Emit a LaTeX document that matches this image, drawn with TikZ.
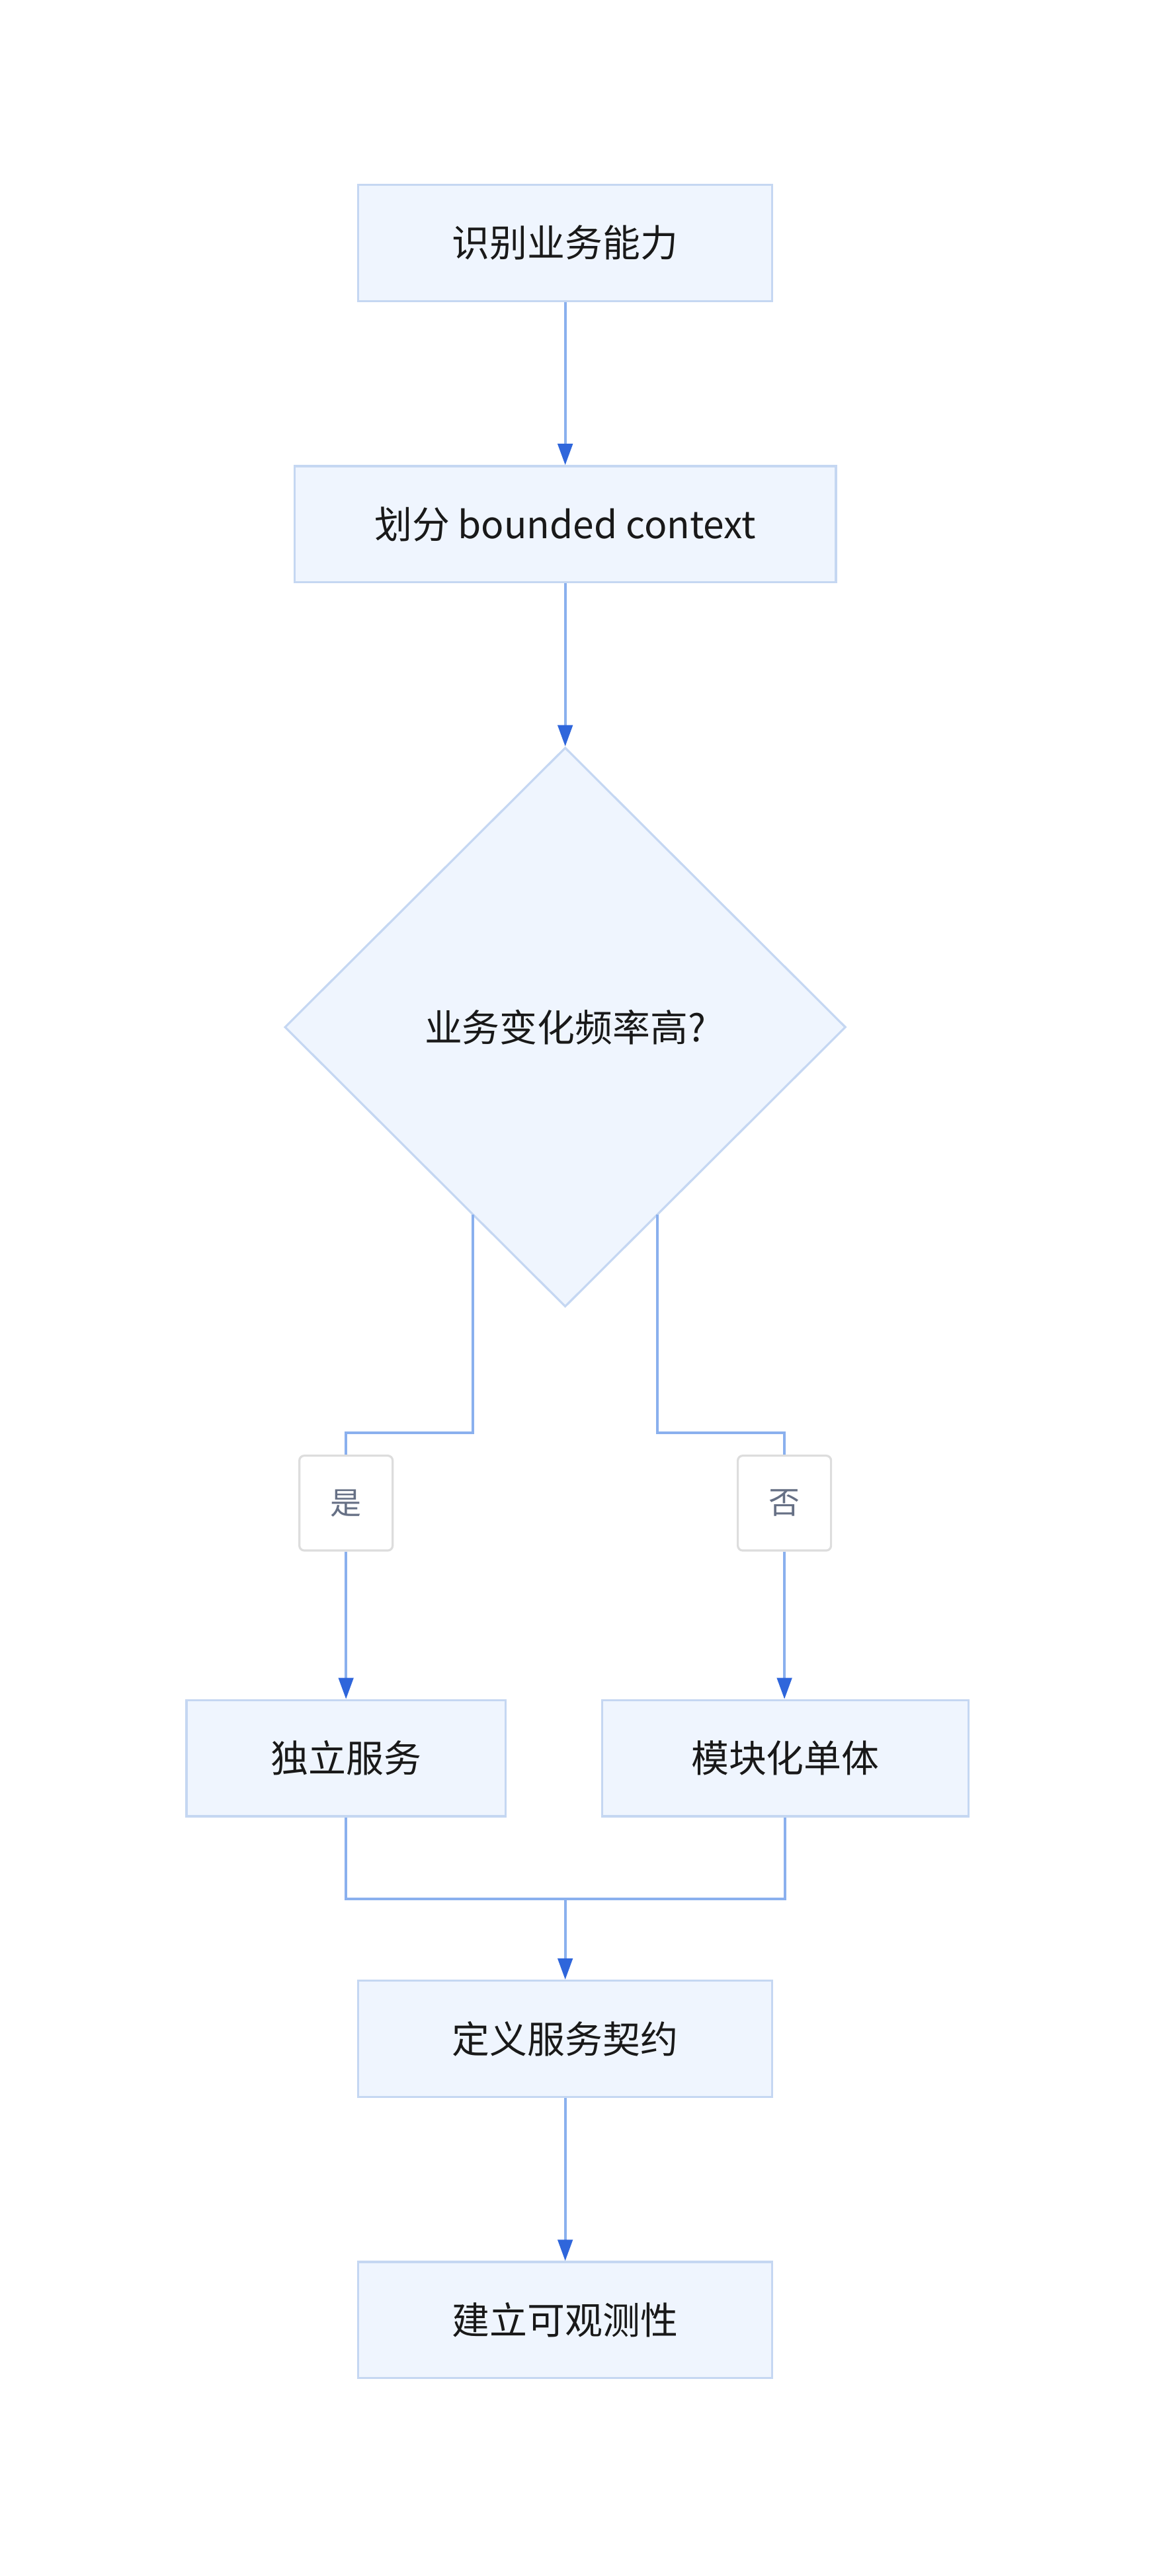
\documentclass[tikz,border=0pt]{standalone}
\usepackage{fontspec}
\setmainfont{Noto Sans CJK SC}
\usetikzlibrary{shapes.geometric,arrows.meta}
\definecolor{boxfill}{HTML}{EFF5FE}
\definecolor{boxline}{HTML}{C5D7F2}
\definecolor{conn}{HTML}{8AB0EE}
\definecolor{tip}{HTML}{2F66DB}
\definecolor{lblline}{HTML}{DDDDDD}
\definecolor{lbltext}{HTML}{667085}
\begin{document}
\begin{tikzpicture}[x=1pt,y=-1pt,
  box/.style={draw=boxline,fill=boxfill,line width=1.3pt,minimum height=71pt,inner sep=0pt,font=\fontsize{23}{28}\selectfont,text=black!90},
  lbl/.style={draw=lblline,fill=white,rounded corners=3pt,line width=1.3pt,minimum width=57pt,minimum height=58pt,inner sep=0pt,font=\fontsize{19}{23}\selectfont,text=lbltext},
  line/.style={draw=conn,line width=1.6pt},
  arr/.style={line,-{Triangle[length=13pt,width=9pt,fill=tip,color=tip]}}]
\useasboundingbox (0,0) rectangle (709,1575);
\node[box,minimum width=253pt] (a) at (345.5,148.5) {识别业务能力};
\node[box,minimum width=331pt] (b) at (345.5,320.5) {划分 bounded context};
\node[diamond,draw=boxline,fill=boxfill,line width=1.3pt,minimum width=343pt,minimum height=342pt,inner sep=0pt,font=\fontsize{23}{28}\selectfont,text=black!90] (c) at (345.5,628) {业务变化频率高?};
\node[lbl] (y) at (211.5,919) {是};
\node[lbl] (n) at (479.5,919) {否};
\node[box,minimum width=195pt] (d) at (211.5,1075) {独立服务};
\node[box,minimum width=224pt] (e) at (480,1075) {模块化单体};
\node[box,minimum width=253pt] (f) at (345.5,1246.5) {定义服务契约};
\node[box,minimum width=253pt] (g) at (345.5,1418.5) {建立可观测性};
\coordinate (cl) at (289,742.7);
\coordinate (cr) at (402,742.7);
\coordinate (m) at (345.5,1161);
\draw[arr] (a) -- (b);
\draw[arr] (b) -- (c.north);
\draw[line] (cl) -- (289,876) -| (y.north);
\draw[line] (cr) -- (402,876) -| (n.north);
\draw[arr] (y) -- (d.north -| y);
\draw[arr] (n) -- (e.north -| n);
\draw[line] (d.south) |- (m);
\draw[line] (e.south) |- (m);
\draw[arr] (m) -- (f.north);
\draw[arr] (f) -- (g);
\end{tikzpicture}
\end{document}
